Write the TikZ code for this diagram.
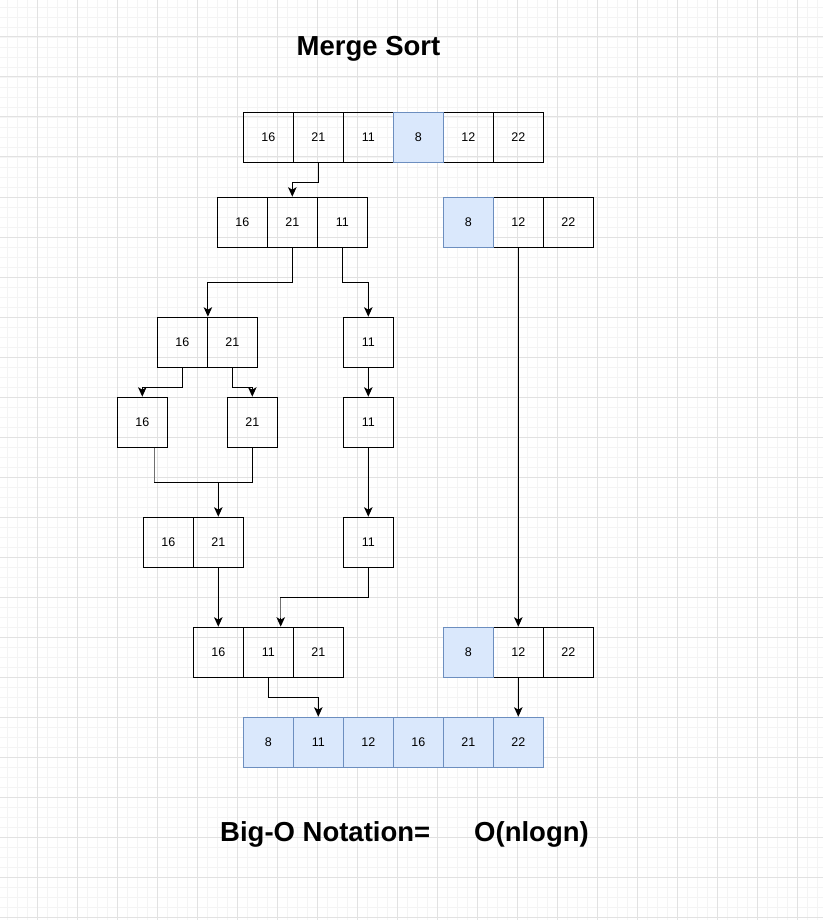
\documentclass[tikz,border=0pt]{standalone}
\usepackage{fontspec}
\setmainfont{Liberation Sans}
\usetikzlibrary{arrows.meta}
\definecolor{gmajor}{HTML}{E2E2E2}
\definecolor{gminor}{HTML}{F4F4F4}
\definecolor{bfill}{HTML}{DAE8FC}
\definecolor{bdraw}{HTML}{6C8EBF}
\definecolor{lgray}{HTML}{707070}
\begin{document}
\begin{tikzpicture}[x=1pt,y=-1pt,
  cell/.style={draw=black, line width=1.2pt, minimum width=50pt, minimum height=50pt, inner sep=0pt, font=\fontsize{12.5}{14}\selectfont},
  bcell/.style={cell, fill=bfill, draw=bdraw},
  link/.style={line width=1.1pt, draw=black},
  arr/.style={link, -{Stealth[length=9.5pt,width=8.5pt,inset=2.5pt]}},
  ttl/.style={font=\bfseries\fontsize{27.5}{30}\selectfont, inner sep=0pt}]
% background and grid
\fill[white] (0,0) rectangle (823,920);
\useasboundingbox (0,0) rectangle (823,920);
\foreach \i in {7,17,...,817} \draw[gminor, line width=0.8pt] (\i,0) -- (\i,920);
\foreach \j in {7,17,...,917} \draw[gminor, line width=0.8pt] (0,\j) -- (823,\j);
\foreach \i in {37,77,...,817} \draw[gmajor, line width=1pt] (\i,0) -- (\i,920);
\foreach \j in {37,77,...,917} \draw[gmajor, line width=1pt] (0,\j) -- (823,\j);

% title
\node[ttl, anchor=base] (title) at (368.5,56) {Merge Sort};

% row A
\node[cell]  (a1) at (268.3,137.3) {16};
\node[cell]  (a2) at (318.3,137.3) {21};
\node[cell]  (a3) at (368.3,137.3) {11};
\node[cell]  (a5) at (468.3,137.3) {12};
\node[cell]  (a6) at (518.3,137.3) {22};
\node[bcell] (a4) at (418.3,137.3) {8};

% row B
\node[cell]  (b1) at (242.3,222.3) {16};
\node[cell]  (b2) at (292.3,222.3) {21};
\node[cell]  (b3) at (342.3,222.3) {11};
\node[cell]  (b5) at (518.3,222.3) {12};
\node[cell]  (b6) at (568.3,222.3) {22};
\node[bcell] (b4) at (468.3,222.3) {8};

% row C
\node[cell] (c1) at (182.3,342.3) {16};
\node[cell] (c2) at (232.3,342.3) {21};
\node[cell] (c3) at (368.3,342.3) {11};

% row D
\node[cell] (d1) at (142.3,422.3) {16};
\node[cell] (d2) at (252.3,422.3) {21};
\node[cell] (d3) at (368.3,422.3) {11};

% row E
\node[cell] (e1) at (168.3,542.3) {16};
\node[cell] (e2) at (218.3,542.3) {21};
\node[cell] (e3) at (368.3,542.3) {11};

% row F
\node[cell]  (f1) at (218.3,652.3) {16};
\node[cell]  (f2) at (268.3,652.3) {11};
\node[cell]  (f3) at (318.3,652.3) {21};
\node[cell]  (f5) at (518.3,652.3) {12};
\node[cell]  (f6) at (568.3,652.3) {22};
\node[bcell] (f4) at (468.3,652.3) {8};

% row G
\node[bcell] (g1) at (268.3,742.3) {8};
\node[bcell] (g2) at (318.3,742.3) {11};
\node[bcell] (g3) at (368.3,742.3) {12};
\node[bcell] (g4) at (418.3,742.3) {16};
\node[bcell] (g5) at (468.3,742.3) {21};
\node[bcell] (g6) at (518.3,742.3) {22};

% helper coordinates
\coordinate (d1s) at ([xshift=12pt]d1.south);
\coordinate (f2n) at ([xshift=12.4pt]f2.north);
\coordinate (f2g) at ([xshift=12.4pt,yshift=9pt]f2.north);

% connectors
\draw[arr] (a2.south) -- ++(0,19.5) -| (b2.north);
\draw[arr] (b2.south) -- ++(0,34.6) -| (c1.north east);
\draw[arr] (b3.south) -- ++(0,34.6) -| (c3.north);
\draw[arr] (c1.south) -- ++(0,19.6) -| (d1.north);
\draw[arr] (c2.south) -- ++(0,19.6) -| (d2.north);
\draw[arr] (c3.south) -- (d3.north);
\draw[link, draw=lgray] (d1s) -- ++(0,34.6) coordinate (m1);
\draw[link] (m1) -- (m1 -| d2.south) -- (d2.south);
\draw[arr] (m1 -| e2.north) -- (e2.north);
\draw[arr] (d3.south) -- (e3.north);
\draw[arr] (e2.south) -- (f1.north);
\draw[arr] (e3.south) -- ++(0,29.6) coordinate (m2) -| (f2n);
\draw[link, draw=lgray] (m2 -| f2n) -- (f2g);
\draw[arr] (b5.south) -- (f5.north);
\draw[arr] (f2.south) -- ++(0,19.6) -| (g2.north);
\draw[arr] (f5.south) -- (g6.north);

% complexity
\node[ttl, anchor=base west] (bigo) at (220,841) {Big-O Notation=\hspace{44pt}O(nlogn)};
\end{tikzpicture}
\end{document}
